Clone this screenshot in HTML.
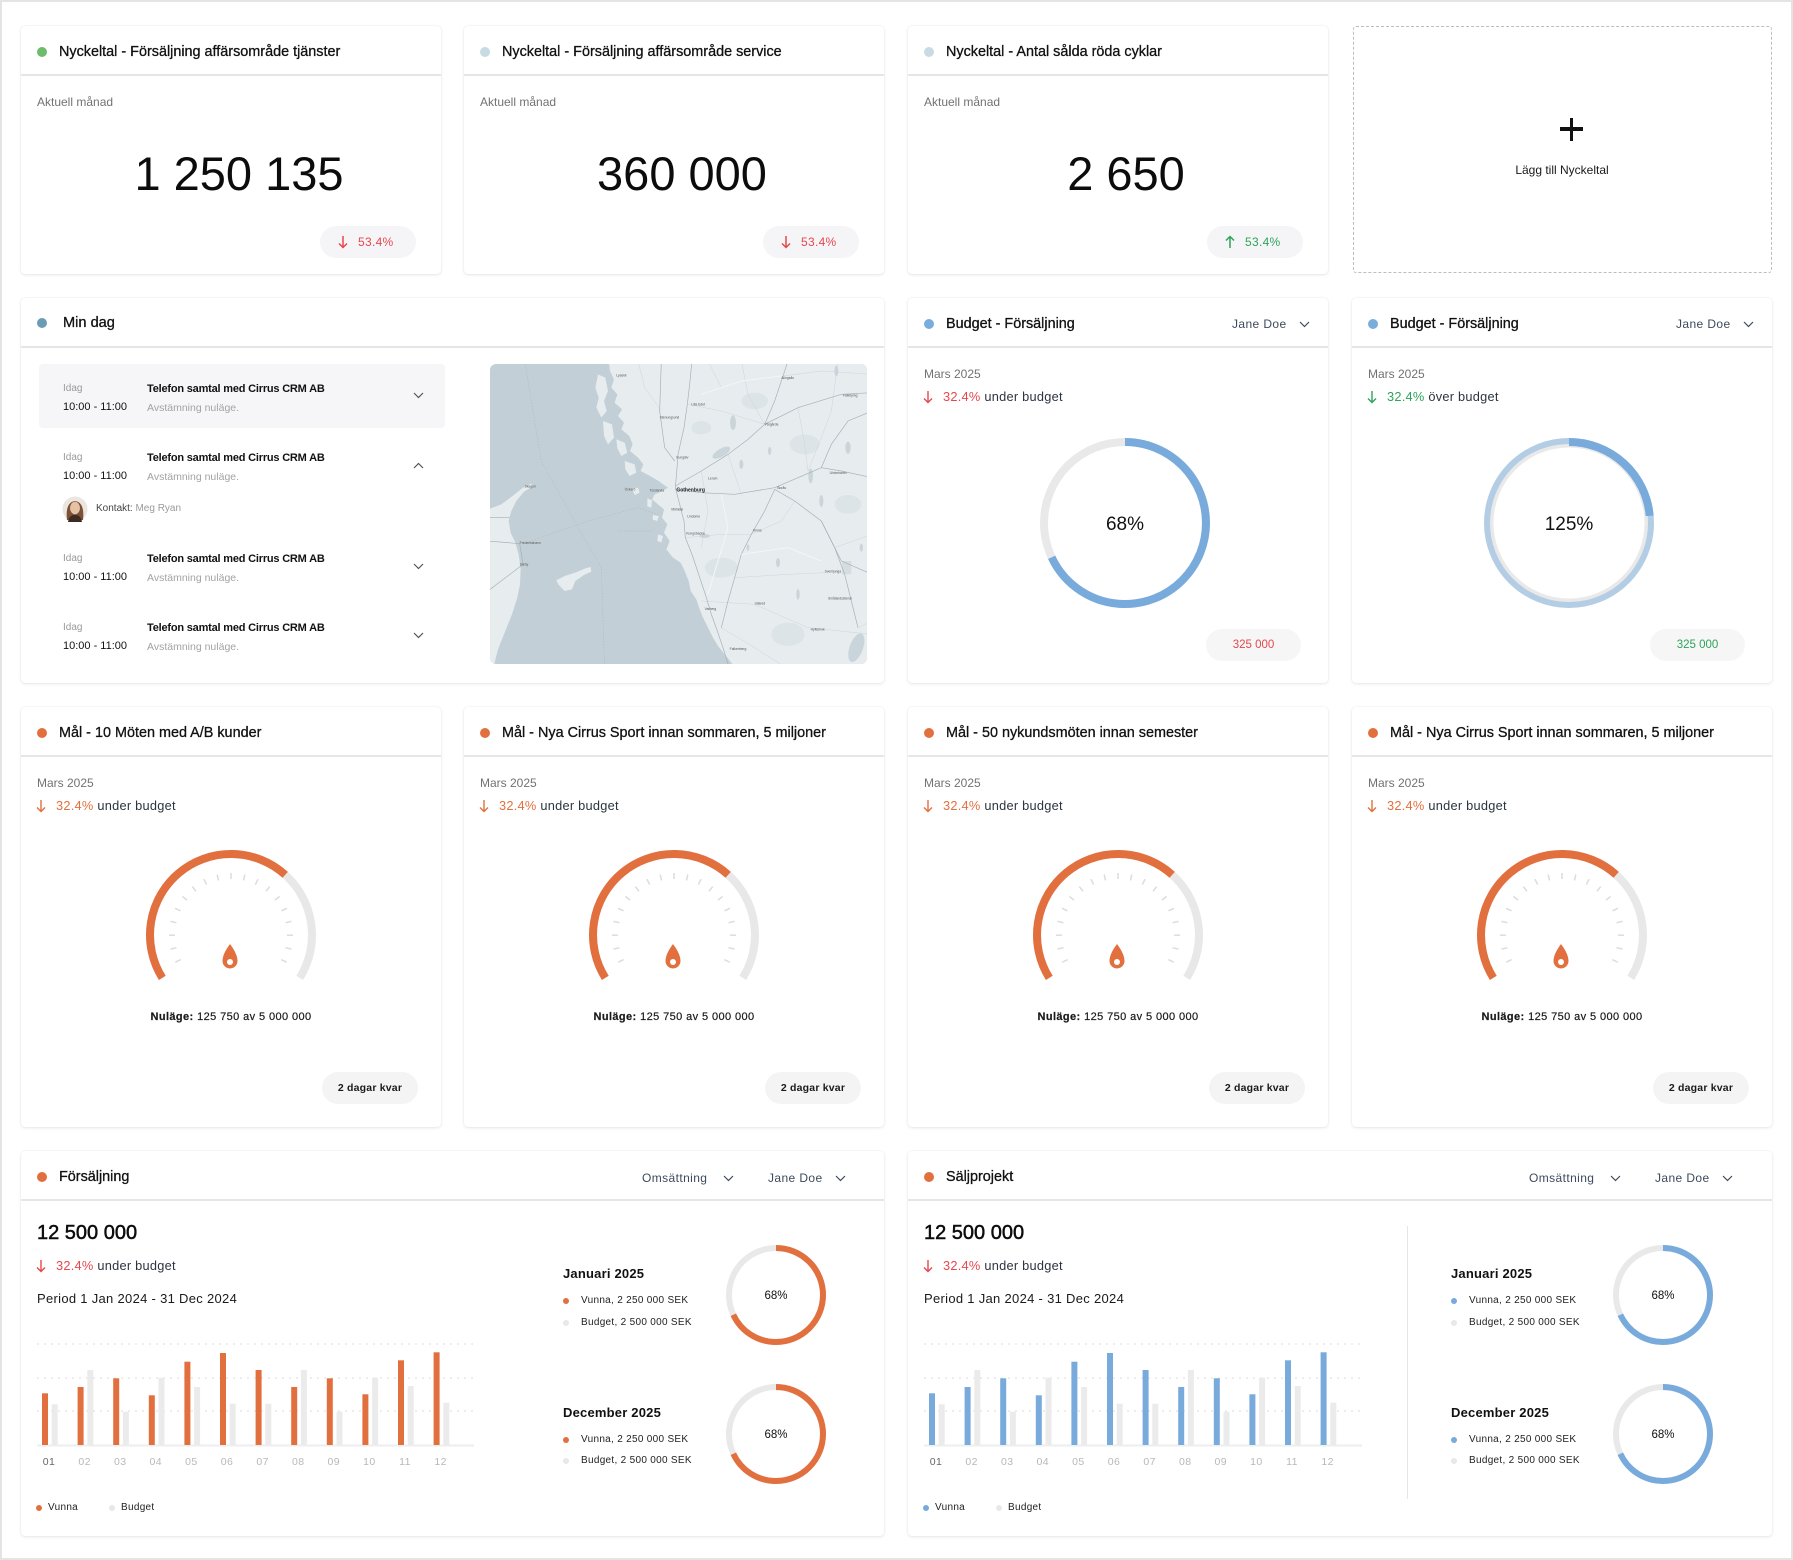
<!DOCTYPE html>
<html><head><meta charset="utf-8">
<style>
*{box-sizing:border-box;margin:0;padding:0}
html,body{width:1793px;height:1560px;overflow:hidden;background:#fff}
body{font-family:"Liberation Sans",Arial,sans-serif;color:#111;position:relative}
#frame{position:absolute;left:0;top:0;width:1793px;height:1560px;border:2px solid #e4e4e4;background:#fff}
#wrap{position:absolute;left:0;top:1px;width:1793px;height:1558px}
.card{position:absolute;background:#fff;border-radius:4px;box-shadow:0 1px 3px rgba(0,0,0,.09),0 0 1px rgba(0,0,0,.12)}
.hl{position:absolute;left:0;right:0;top:48px;height:1.5px;background:#e6e6e6}
.dot{position:absolute;width:10px;height:10px;border-radius:50%;left:16px;top:21px}
.t{position:absolute;white-space:nowrap}
.ti{left:38px;top:16px;font-size:14.4px;line-height:20px;color:#111;-webkit-text-stroke:.3px #111}
.mu{font-size:12px;line-height:16px;color:#727272}
.ub{font-size:12.8px;line-height:16px;letter-spacing:.25px;color:#2b3440}
.abs{position:absolute;left:0;top:0}
.big{left:16px;right:0;top:121px;text-align:center;font-size:47px;line-height:54px;color:#0c0c0c}
.badge{position:absolute;left:299px;top:200px;width:96px;height:32px;border-radius:16px;background:#f5f5f7}
.pill{position:absolute;left:301px;top:365px;width:96px;height:32px;border-radius:16px;background:#f4f4f5;font-size:10.5px;font-weight:bold;letter-spacing:.2px;line-height:32px;text-align:center;color:#1a1a1a}
.sel{font-size:12px;line-height:16px;letter-spacing:.4px;color:#3c4a5c}
.nu{left:0;width:420px;top:302px;text-align:center;font-size:11px;line-height:16px;letter-spacing:.4px;color:#1a1a1a;-webkit-text-stroke:.2px #1a1a1a}
.idag{font-size:10px;line-height:14px;color:#9a9a9a}
.tm{font-size:11px;line-height:14px;color:#111}
.it{font-size:11px;line-height:14px;font-weight:bold;letter-spacing:-.2px;color:#111}
.sub{font-size:10.5px;line-height:14px;color:#a3a3a3}
.mon{font-size:13px;font-weight:bold;line-height:18px;letter-spacing:.2px;color:#111}
.lg{font-size:10px;line-height:14px;letter-spacing:.3px;color:#222}
</style></head><body>
<div id="frame"></div>
<div id="wrap">

<!-- ROW 1 -->
<div class="card" style="left:21px;top:25px;width:420px;height:248px">
  <div class="dot" style="background:#6dbb6b"></div>
  <div class="t ti">Nyckeltal - Försäljning affärsområde tjänster</div>
  <div class="hl"></div>
  <div class="t mu" style="left:16px;top:68px">Aktuell månad</div>
  <div class="t big">1 250 135</div>
  <div class="badge">
    <svg style="position:absolute;left:18px;top:9px" width="10" height="14" viewBox="0 0 10 14"><path d="M5 1V12.5M1 8.5L5 12.5L9 8.5" stroke="#e5484d" stroke-width="1.5" fill="none"/></svg>
    <div class="t" style="left:38px;top:8px;font-size:12px;line-height:16px;letter-spacing:.3px;color:#e5484d">53.4%</div>
  </div>
</div>
<div class="card" style="left:464px;top:25px;width:420px;height:248px">
  <div class="dot" style="background:#c8dbe3"></div>
  <div class="t ti">Nyckeltal - Försäljning affärsområde service</div>
  <div class="hl"></div>
  <div class="t mu" style="left:16px;top:68px">Aktuell månad</div>
  <div class="t big">360 000</div>
  <div class="badge">
    <svg style="position:absolute;left:18px;top:9px" width="10" height="14" viewBox="0 0 10 14"><path d="M5 1V12.5M1 8.5L5 12.5L9 8.5" stroke="#e5484d" stroke-width="1.5" fill="none"/></svg>
    <div class="t" style="left:38px;top:8px;font-size:12px;line-height:16px;letter-spacing:.3px;color:#e5484d">53.4%</div>
  </div>
</div>
<div class="card" style="left:908px;top:25px;width:420px;height:248px">
  <div class="dot" style="background:#c8dbe3"></div>
  <div class="t ti">Nyckeltal - Antal sålda röda cyklar</div>
  <div class="hl"></div>
  <div class="t mu" style="left:16px;top:68px">Aktuell månad</div>
  <div class="t big">2 650</div>
  <div class="badge">
    <svg style="position:absolute;left:18px;top:9px" width="10" height="14" viewBox="0 0 10 14"><path d="M5 13V1.5M1 5.5L5 1.5L9 5.5" stroke="#2ea35a" stroke-width="1.5" fill="none"/></svg>
    <div class="t" style="left:38px;top:8px;font-size:12px;line-height:16px;letter-spacing:.3px;color:#2ea35a">53.4%</div>
  </div>
</div>
<div style="position:absolute;left:1353px;top:25px;width:419px;height:247px;border:1.5px dashed #bdbdbd;border-radius:3px;background:#fff">
  <div style="position:absolute;left:206px;top:100px;width:23px;height:3.5px;background:#111"></div>
  <div style="position:absolute;left:215.7px;top:90.5px;width:3.5px;height:23px;background:#111"></div>
  <div class="t" style="left:0;width:416px;top:135px;text-align:center;font-size:12px;line-height:16px;color:#1a1a1a">Lägg till Nyckeltal</div>
</div>

<!-- ROW 2 : Min dag -->
<div class="card" style="left:21px;top:297px;width:863px;height:385px">
  <div class="dot" style="background:#6b9cb6;top:20px"></div>
  <div class="t" style="left:42px;top:15px;font-size:14.6px;line-height:20px;-webkit-text-stroke:.3px #111">Min dag</div>
  <div class="hl"></div>
  <div style="position:absolute;left:18px;top:66px;width:406px;height:64px;border-radius:4px;background:#f6f6f8"></div>

  <div class="t idag" style="left:42px;top:84px">Idag</div>
  <div class="t tm" style="left:42px;top:102px">10:00 - 11:00</div>
  <div class="t it" style="left:126px;top:84px">Telefon samtal med Cirrus CRM AB</div>
  <div class="t sub" style="left:126px;top:103px">Avstämning nuläge.</div>
  <svg style="position:absolute;left:392px;top:94px" width="11" height="7"><path d="M1 1L5.5 5.5L10 1" stroke="#555" stroke-width="1.2" fill="none"/></svg>

  <div class="t idag" style="left:42px;top:153px">Idag</div>
  <div class="t tm" style="left:42px;top:171px">10:00 - 11:00</div>
  <div class="t it" style="left:126px;top:153px">Telefon samtal med Cirrus CRM AB</div>
  <div class="t sub" style="left:126px;top:172px">Avstämning nuläge.</div>
  <svg style="position:absolute;left:392px;top:164px" width="11" height="7"><path d="M1 6L5.5 1.5L10 6" stroke="#555" stroke-width="1.2" fill="none"/></svg>
  <svg style="position:absolute;left:41px;top:198px" width="26" height="26" viewBox="0 0 26 26">
    <circle cx="13" cy="13" r="12.5" fill="#ece6e1"/>
    <path d="M5 24C4 15 5 6 13 5C21 6 22 15 21 24Z" fill="#7a5238"/>
    <ellipse cx="13" cy="12" rx="5" ry="6.2" fill="#e6c1a4"/>
    <path d="M6 26C7 20 10 19 13 19C16 19 19 20 20 26Z" fill="#3d2a22"/>
  </svg>
  <div class="t" style="left:75px;top:204px;font-size:10px;line-height:14px;color:#444">Kontakt: <span style="color:#9b9b9b">Meg Ryan</span></div>

  <div class="t idag" style="left:42px;top:254px">Idag</div>
  <div class="t tm" style="left:42px;top:272px">10:00 - 11:00</div>
  <div class="t it" style="left:126px;top:254px">Telefon samtal med Cirrus CRM AB</div>
  <div class="t sub" style="left:126px;top:273px">Avstämning nuläge.</div>
  <svg style="position:absolute;left:392px;top:265px" width="11" height="7"><path d="M1 1L5.5 5.5L10 1" stroke="#555" stroke-width="1.2" fill="none"/></svg>

  <div class="t idag" style="left:42px;top:323px">Idag</div>
  <div class="t tm" style="left:42px;top:341px">10:00 - 11:00</div>
  <div class="t it" style="left:126px;top:323px">Telefon samtal med Cirrus CRM AB</div>
  <div class="t sub" style="left:126px;top:342px">Avstämning nuläge.</div>
  <svg style="position:absolute;left:392px;top:334px" width="11" height="7"><path d="M1 1L5.5 5.5L10 1" stroke="#555" stroke-width="1.2" fill="none"/></svg>
</div>

<!-- MAP -->
<svg style="position:absolute;left:488px;top:360px" width="384" height="308" viewBox="0 0 1152 924">
  <defs><clipPath id="mc"><rect x="6" y="9" width="1131" height="900" rx="18"/></clipPath></defs>
  <g clip-path="url(#mc)">
    <rect width="1152" height="924" fill="#c2cfd6"/>
    <path d="M362,0 L366,30 L378,55 L370,80 L388,100 L380,125 L402,145 L390,165 L408,185 L400,205 L424,225 L434,250 L426,270 L450,290 L466,310 L458,330 L486,345 L512,360 L528,372 L540,380 L520,392 L500,400 L492,415 L510,430 L528,445 L522,470 L538,490 L528,515 L545,540 L535,565 L555,590 L578,605 L590,630 L602,660 L608,690 L625,715 L635,745 L645,770 L660,800 L675,830 L690,855 L710,880 L730,905 L745,924 L1152,924 L1152,0 Z" fill="#e7ecef"/>
    <g fill="#e7ecef">
      <path d="M330,40 L352,50 L360,90 L348,120 L356,150 L340,170 L325,140 L332,110 L322,80 Z"/>
      <path d="M345,180 L372,190 L378,230 L360,250 L348,225 Z"/>
      <path d="M385,235 L410,245 L418,275 L400,285 L388,262 Z"/>
      <path d="M410,300 L440,310 L445,335 L425,345 L412,325 Z"/>
      <path d="M432,383 L450,380 L455,395 L440,402 Z"/>
      <path d="M478,412 L492,418 L490,440 L478,436 Z"/>
      <path d="M495,462 L512,465 L508,480 L494,476 Z"/>
      <path d="M510,520 L525,525 L520,545 L508,540 Z"/>
    </g>
    <path d="M0,445 L40,430 L80,400 L105,380 L130,368 L133,377 L108,392 L85,420 L70,450 L62,480 L68,515 L82,545 L92,580 L98,625 L96,670 L88,710 L72,760 L50,815 L30,865 L15,924 L0,924 Z" fill="#e7ecef"/>
    <path d="M205,658 L230,645 L262,635 L292,622 L308,618 L310,632 L288,642 L262,660 L252,685 L230,690 L212,672 Z" fill="#e7ecef"/>
    <g fill="#dde4e8">
      <ellipse cx="800" cy="120" rx="40" ry="25"/><ellipse cx="950" cy="250" rx="45" ry="30"/>
      <ellipse cx="700" cy="620" rx="50" ry="30"/><ellipse cx="900" cy="820" rx="50" ry="35"/>
      <ellipse cx="1080" cy="430" rx="40" ry="28"/><ellipse cx="640" cy="200" rx="30" ry="20"/>
    </g>
    <g fill="#cad5db">
      <ellipse cx="700" cy="275" rx="30" ry="12" transform="rotate(-30 700 275)"/>
      <ellipse cx="735" cy="185" rx="9" ry="22"/><ellipse cx="968" cy="345" rx="7" ry="22"/>
      <ellipse cx="870" cy="605" rx="6" ry="14"/><ellipse cx="930" cy="700" rx="5" ry="16"/>
      <ellipse cx="1105" cy="860" rx="20" ry="45" transform="rotate(20 1105 860)"/>
      <ellipse cx="650" cy="525" rx="16" ry="6"/><ellipse cx="1000" cy="420" rx="6" ry="18"/>
      <ellipse cx="760" cy="310" rx="6" ry="14"/><ellipse cx="1080" cy="260" rx="8" ry="18"/>
      <ellipse cx="1045" cy="30" rx="6" ry="16"/><ellipse cx="845" cy="270" rx="5" ry="12"/>
      <ellipse cx="780" cy="560" rx="4" ry="10"/><ellipse cx="1120" cy="560" rx="5" ry="12"/>
    </g>
    <rect x="1062" y="600" width="28" height="40" fill="#d6dde1"/>
    <g stroke="#aab5bc" stroke-width="1.2" fill="none" stroke-dasharray="5 4">
      <path d="M110,0 L160,300 L270,500 L340,620 L350,924"/>
      <path d="M130,540 L300,480 L450,440 L510,460"/>
      <path d="M390,510 L495,510"/>
    </g>
    <g stroke="#c9d2d7" stroke-width="1.3" fill="none">
      <path d="M600,130 L700,150 L830,190"/><path d="M720,280 L760,400"/>
      <path d="M885,45 L1000,30 L1152,40"/><path d="M1040,560 L1152,520"/>
      <path d="M740,650 L900,640 L1010,635"/><path d="M640,720 L800,730 L960,800 L1152,820"/>
      <path d="M590,530 L700,520 L790,520"/><path d="M960,330 L1000,230 L1030,150 L1050,0"/>
      <path d="M450,0 L470,80 L520,150"/><path d="M640,330 L660,450 L640,560"/>
      <path d="M930,140 L950,250 L960,330"/><path d="M790,520 L880,480 L920,420"/>
      <path d="M700,800 L800,860 L900,924"/><path d="M1110,800 L1152,780"/>
      <path d="M760,0 L780,100 L830,190"/><path d="M660,0 L700,80 L760,60"/>
    </g>
    <g stroke="#a4b0b7" stroke-width="2" fill="none">
      <path d="M612,0 L606,60 L598,130 L588,200 L570,280 L566,335 L562,380 L575,430 L588,480 L592,530 L612,580 L632,640 L652,700 L670,760 L688,810 L705,860 L725,924"/>
      <path d="M562,385 L640,395 L740,400 L860,380 L930,350 L1000,320 L1060,330 L1152,350"/>
      <path d="M562,375 L640,330 L720,280 L780,235 L830,190 L860,120 L885,45 L900,0"/>
      <path d="M860,385 L830,450 L790,520 L760,580 L740,650 L720,720 L700,800"/>
      <path d="M860,385 L920,420 L1000,480 L1040,560 L1070,640 L1090,720 L1110,800"/>
      <path d="M830,190 L930,140 L1060,100 L1152,95"/>
      <path d="M1000,320 L1030,250 L1080,180 L1152,150"/>
      <path d="M0,540 L95,548 L105,610 L0,690"/>
      <path d="M0,470 L65,470"/>
      <path d="M520,0 L515,150 L530,260 L560,300"/>
      <path d="M1000,480 L1060,600 L1152,640"/>
    </g>
    <g stroke="#f4f6f7" stroke-width="3" fill="none">
      <path d="M700,400 L720,500 L690,600 L660,700"/>
      <path d="M760,580 L900,560 L1000,600"/>
      <path d="M640,100 L760,60 L880,45"/>
    </g>
    <g font-family="Liberation Sans, sans-serif" font-size="10" fill="#555">
      <text x="385" y="46">Lysekil</text><text x="610" y="133">Lilla Edet</text>
      <text x="515" y="173">Stenungsund</text><text x="565" y="293">Kungälv</text>
      <text x="660" y="355">Lerum</text><text x="868" y="384">Borås</text>
      <text x="830" y="194">Vårgårda</text><text x="1025" y="339">Ulricehamn</text>
      <text x="1065" y="107">Falköping</text><text x="880" y="54">Alingsås</text>
      <text x="410" y="388">Öckerö</text><text x="485" y="392">Torslanda</text>
      <text x="550" y="448">Mölndal</text><text x="598" y="470">Lindome</text>
      <text x="595" y="521">Kungsbacka</text><text x="795" y="511">Kinna</text>
      <text x="650" y="747">Varberg</text><text x="725" y="867">Falkenberg</text>
      <text x="800" y="730">Ullared</text><text x="968" y="808">Hyltebruk</text>
      <text x="1010" y="635">Svenljunga</text><text x="1020" y="716">Smålandsstenar</text>
      <text x="110" y="380">Skagen</text><text x="95" y="549">Frederikshavn</text>
      <text x="95" y="614">Sæby</text>
      <text x="565" y="391" font-size="15" font-weight="bold" fill="#222">Gothenburg</text>
    </g>
  </g>
</svg>

<!-- ROW 2 : Budget -->
<div class="card" style="left:908px;top:297px;width:420px;height:385px">
  <div class="dot" style="background:#7aaddc"></div>
  <div class="t ti">Budget - Försäljning</div>
  <div class="t sel" style="left:324px;top:18px">Jane Doe</div>
  <svg style="position:absolute;left:391px;top:23px" width="11" height="7"><path d="M1 1L5.5 5.5L10 1" stroke="#3c4a5c" stroke-width="1.2" fill="none"/></svg>
  <div class="hl"></div>
  <div class="t mu" style="left:16px;top:68px">Mars 2025</div>
  <svg style="position:absolute;left:15px;top:92px" width="10" height="14" viewBox="0 0 10 14"><path d="M5 1V12.5M1 8.5L5 12.5L9 8.5" stroke="#e5484d" stroke-width="1.4" fill="none"/></svg>
  <div class="t ub" style="left:35px;top:91px"><span style="color:#e5484d">32.4%</span> under budget</div>
  <svg class="abs" width="420" height="385">
    <circle cx="217" cy="225" r="81" fill="none" stroke="#e9e9e9" stroke-width="8"/>
    <circle cx="217" cy="225" r="81" fill="none" stroke="#78abdc" stroke-width="8" stroke-dasharray="346.1 600" transform="rotate(-90 217 225)"/>
    <text x="217" y="232" text-anchor="middle" font-family="Liberation Sans, sans-serif" font-size="19" fill="#111">68%</text>
  </svg>
  <div style="position:absolute;left:298px;top:331px;width:95px;height:32px;border-radius:16px;background:#f6f6f6;text-align:center;line-height:32px;font-size:11.5px;color:#e5484d">325 000</div>
</div>
<div class="card" style="left:1352px;top:297px;width:420px;height:385px">
  <div class="dot" style="background:#7aaddc"></div>
  <div class="t ti">Budget - Försäljning</div>
  <div class="t sel" style="left:324px;top:18px">Jane Doe</div>
  <svg style="position:absolute;left:391px;top:23px" width="11" height="7"><path d="M1 1L5.5 5.5L10 1" stroke="#3c4a5c" stroke-width="1.2" fill="none"/></svg>
  <div class="hl"></div>
  <div class="t mu" style="left:16px;top:68px">Mars 2025</div>
  <svg style="position:absolute;left:15px;top:92px" width="10" height="14" viewBox="0 0 10 14"><path d="M5 1V12.5M1 8.5L5 12.5L9 8.5" stroke="#2ea35a" stroke-width="1.4" fill="none"/></svg>
  <div class="t ub" style="left:35px;top:91px"><span style="color:#2ea35a">32.4%</span> över budget</div>
  <svg class="abs" width="420" height="385">
    <circle cx="217" cy="225" r="79" fill="none" stroke="#e9e9e9" stroke-width="7"/>
    <circle cx="217" cy="225" r="82" fill="none" stroke="#b3cde4" stroke-width="6"/>
    <circle cx="217" cy="225" r="81" fill="none" stroke="#78abdc" stroke-width="8" stroke-dasharray="120 600" transform="rotate(-90 217 225)"/>
    <text x="217" y="232" text-anchor="middle" font-family="Liberation Sans, sans-serif" font-size="19" fill="#111">125%</text>
  </svg>
  <div style="position:absolute;left:298px;top:331px;width:95px;height:32px;border-radius:16px;background:#f6f6f6;text-align:center;line-height:32px;font-size:11.5px;color:#2ea35a">325 000</div>
</div>

<!-- ROW 3 : Gauges -->
<div class="card" style="left:21px;top:706px;width:420px;height:420px">
  <div class="dot" style="background:#e2703f"></div>
  <div class="t ti">Mål - 10 Möten med A/B kunder</div>
  <div class="hl"></div>
  <div class="t mu" style="left:16px;top:68px">Mars 2025</div>
  <svg style="position:absolute;left:15px;top:92px" width="10" height="14" viewBox="0 0 10 14"><path d="M5 1V12.5M1 8.5L5 12.5L9 8.5" stroke="#e2703f" stroke-width="1.4" fill="none"/></svg>
  <div class="t ub" style="left:35px;top:91px"><span style="color:#e2703f">32.4%</span> under budget</div>
  <svg class="abs" width="420" height="420">
    <path d="M141.3 270.9 A81 81 0 1 1 278.7 270.9" fill="none" stroke="#e8e8e8" stroke-width="8"/>
    <path d="M141.3 270.9 A81 81 0 0 1 264.2 167.8" fill="none" stroke="#e2703f" stroke-width="8"/>
    <g stroke="#dcdcdc" stroke-width="1.5">
      <line x1="260.3" y1="252.6" x2="265.7" y2="255.2"/><line x1="264.5" y1="240.7" x2="270.4" y2="242.1"/><line x1="266" y1="228.2" x2="272" y2="228.2"/><line x1="264.6" y1="215.7" x2="270.5" y2="214.4"/><line x1="260.5" y1="203.8" x2="265.9" y2="201.3"/><line x1="253.9" y1="193.2" x2="258.6" y2="189.4"/><line x1="245" y1="184.3" x2="248.7" y2="179.6"/><line x1="234.4" y1="177.6" x2="237" y2="172.2"/><line x1="222.5" y1="173.4" x2="223.8" y2="167.6"/><line x1="210" y1="172" x2="210" y2="166"/><line x1="197.5" y1="173.4" x2="196.2" y2="167.6"/><line x1="185.6" y1="177.6" x2="183" y2="172.2"/><line x1="175" y1="184.3" x2="171.3" y2="179.6"/><line x1="166.1" y1="193.2" x2="161.4" y2="189.4"/><line x1="159.5" y1="203.8" x2="154.1" y2="201.3"/><line x1="155.4" y1="215.7" x2="149.5" y2="214.4"/><line x1="154" y1="228.2" x2="148" y2="228.2"/><line x1="155.5" y1="240.7" x2="149.6" y2="242.1"/><line x1="159.7" y1="252.6" x2="154.3" y2="255.2"/>
    </g>
    <path d="M209 237 Q216.5 247 216.5 254 A7.5 7.5 0 1 1 201.5 254 Q201.5 247 209 237 Z" fill="#e2703f"/>
    <circle cx="209" cy="255" r="3" fill="#fff"/>
  </svg>
  <div class="t nu"><b>Nuläge:</b> 125 750 av 5 000 000</div>
  <div class="pill">2 dagar kvar</div>
</div>
<div class="card" style="left:464px;top:706px;width:420px;height:420px">
  <div class="dot" style="background:#e2703f"></div>
  <div class="t ti">Mål - Nya Cirrus Sport innan sommaren, 5 miljoner</div>
  <div class="hl"></div>
  <div class="t mu" style="left:16px;top:68px">Mars 2025</div>
  <svg style="position:absolute;left:15px;top:92px" width="10" height="14" viewBox="0 0 10 14"><path d="M5 1V12.5M1 8.5L5 12.5L9 8.5" stroke="#e2703f" stroke-width="1.4" fill="none"/></svg>
  <div class="t ub" style="left:35px;top:91px"><span style="color:#e2703f">32.4%</span> under budget</div>
  <svg class="abs" width="420" height="420">
    <path d="M141.3 270.9 A81 81 0 1 1 278.7 270.9" fill="none" stroke="#e8e8e8" stroke-width="8"/>
    <path d="M141.3 270.9 A81 81 0 0 1 264.2 167.8" fill="none" stroke="#e2703f" stroke-width="8"/>
    <g stroke="#dcdcdc" stroke-width="1.5">
      <line x1="260.3" y1="252.6" x2="265.7" y2="255.2"/><line x1="264.5" y1="240.7" x2="270.4" y2="242.1"/><line x1="266" y1="228.2" x2="272" y2="228.2"/><line x1="264.6" y1="215.7" x2="270.5" y2="214.4"/><line x1="260.5" y1="203.8" x2="265.9" y2="201.3"/><line x1="253.9" y1="193.2" x2="258.6" y2="189.4"/><line x1="245" y1="184.3" x2="248.7" y2="179.6"/><line x1="234.4" y1="177.6" x2="237" y2="172.2"/><line x1="222.5" y1="173.4" x2="223.8" y2="167.6"/><line x1="210" y1="172" x2="210" y2="166"/><line x1="197.5" y1="173.4" x2="196.2" y2="167.6"/><line x1="185.6" y1="177.6" x2="183" y2="172.2"/><line x1="175" y1="184.3" x2="171.3" y2="179.6"/><line x1="166.1" y1="193.2" x2="161.4" y2="189.4"/><line x1="159.5" y1="203.8" x2="154.1" y2="201.3"/><line x1="155.4" y1="215.7" x2="149.5" y2="214.4"/><line x1="154" y1="228.2" x2="148" y2="228.2"/><line x1="155.5" y1="240.7" x2="149.6" y2="242.1"/><line x1="159.7" y1="252.6" x2="154.3" y2="255.2"/>
    </g>
    <path d="M209 237 Q216.5 247 216.5 254 A7.5 7.5 0 1 1 201.5 254 Q201.5 247 209 237 Z" fill="#e2703f"/>
    <circle cx="209" cy="255" r="3" fill="#fff"/>
  </svg>
  <div class="t nu"><b>Nuläge:</b> 125 750 av 5 000 000</div>
  <div class="pill">2 dagar kvar</div>
</div>
<div class="card" style="left:908px;top:706px;width:420px;height:420px">
  <div class="dot" style="background:#e2703f"></div>
  <div class="t ti">Mål - 50 nykundsmöten innan semester</div>
  <div class="hl"></div>
  <div class="t mu" style="left:16px;top:68px">Mars 2025</div>
  <svg style="position:absolute;left:15px;top:92px" width="10" height="14" viewBox="0 0 10 14"><path d="M5 1V12.5M1 8.5L5 12.5L9 8.5" stroke="#e2703f" stroke-width="1.4" fill="none"/></svg>
  <div class="t ub" style="left:35px;top:91px"><span style="color:#e2703f">32.4%</span> under budget</div>
  <svg class="abs" width="420" height="420">
    <path d="M141.3 270.9 A81 81 0 1 1 278.7 270.9" fill="none" stroke="#e8e8e8" stroke-width="8"/>
    <path d="M141.3 270.9 A81 81 0 0 1 264.2 167.8" fill="none" stroke="#e2703f" stroke-width="8"/>
    <g stroke="#dcdcdc" stroke-width="1.5">
      <line x1="260.3" y1="252.6" x2="265.7" y2="255.2"/><line x1="264.5" y1="240.7" x2="270.4" y2="242.1"/><line x1="266" y1="228.2" x2="272" y2="228.2"/><line x1="264.6" y1="215.7" x2="270.5" y2="214.4"/><line x1="260.5" y1="203.8" x2="265.9" y2="201.3"/><line x1="253.9" y1="193.2" x2="258.6" y2="189.4"/><line x1="245" y1="184.3" x2="248.7" y2="179.6"/><line x1="234.4" y1="177.6" x2="237" y2="172.2"/><line x1="222.5" y1="173.4" x2="223.8" y2="167.6"/><line x1="210" y1="172" x2="210" y2="166"/><line x1="197.5" y1="173.4" x2="196.2" y2="167.6"/><line x1="185.6" y1="177.6" x2="183" y2="172.2"/><line x1="175" y1="184.3" x2="171.3" y2="179.6"/><line x1="166.1" y1="193.2" x2="161.4" y2="189.4"/><line x1="159.5" y1="203.8" x2="154.1" y2="201.3"/><line x1="155.4" y1="215.7" x2="149.5" y2="214.4"/><line x1="154" y1="228.2" x2="148" y2="228.2"/><line x1="155.5" y1="240.7" x2="149.6" y2="242.1"/><line x1="159.7" y1="252.6" x2="154.3" y2="255.2"/>
    </g>
    <path d="M209 237 Q216.5 247 216.5 254 A7.5 7.5 0 1 1 201.5 254 Q201.5 247 209 237 Z" fill="#e2703f"/>
    <circle cx="209" cy="255" r="3" fill="#fff"/>
  </svg>
  <div class="t nu"><b>Nuläge:</b> 125 750 av 5 000 000</div>
  <div class="pill">2 dagar kvar</div>
</div>
<div class="card" style="left:1352px;top:706px;width:420px;height:420px">
  <div class="dot" style="background:#e2703f"></div>
  <div class="t ti">Mål - Nya Cirrus Sport innan sommaren, 5 miljoner</div>
  <div class="hl"></div>
  <div class="t mu" style="left:16px;top:68px">Mars 2025</div>
  <svg style="position:absolute;left:15px;top:92px" width="10" height="14" viewBox="0 0 10 14"><path d="M5 1V12.5M1 8.5L5 12.5L9 8.5" stroke="#e2703f" stroke-width="1.4" fill="none"/></svg>
  <div class="t ub" style="left:35px;top:91px"><span style="color:#e2703f">32.4%</span> under budget</div>
  <svg class="abs" width="420" height="420">
    <path d="M141.3 270.9 A81 81 0 1 1 278.7 270.9" fill="none" stroke="#e8e8e8" stroke-width="8"/>
    <path d="M141.3 270.9 A81 81 0 0 1 264.2 167.8" fill="none" stroke="#e2703f" stroke-width="8"/>
    <g stroke="#dcdcdc" stroke-width="1.5">
      <line x1="260.3" y1="252.6" x2="265.7" y2="255.2"/><line x1="264.5" y1="240.7" x2="270.4" y2="242.1"/><line x1="266" y1="228.2" x2="272" y2="228.2"/><line x1="264.6" y1="215.7" x2="270.5" y2="214.4"/><line x1="260.5" y1="203.8" x2="265.9" y2="201.3"/><line x1="253.9" y1="193.2" x2="258.6" y2="189.4"/><line x1="245" y1="184.3" x2="248.7" y2="179.6"/><line x1="234.4" y1="177.6" x2="237" y2="172.2"/><line x1="222.5" y1="173.4" x2="223.8" y2="167.6"/><line x1="210" y1="172" x2="210" y2="166"/><line x1="197.5" y1="173.4" x2="196.2" y2="167.6"/><line x1="185.6" y1="177.6" x2="183" y2="172.2"/><line x1="175" y1="184.3" x2="171.3" y2="179.6"/><line x1="166.1" y1="193.2" x2="161.4" y2="189.4"/><line x1="159.5" y1="203.8" x2="154.1" y2="201.3"/><line x1="155.4" y1="215.7" x2="149.5" y2="214.4"/><line x1="154" y1="228.2" x2="148" y2="228.2"/><line x1="155.5" y1="240.7" x2="149.6" y2="242.1"/><line x1="159.7" y1="252.6" x2="154.3" y2="255.2"/>
    </g>
    <path d="M209 237 Q216.5 247 216.5 254 A7.5 7.5 0 1 1 201.5 254 Q201.5 247 209 237 Z" fill="#e2703f"/>
    <circle cx="209" cy="255" r="3" fill="#fff"/>
  </svg>
  <div class="t nu"><b>Nuläge:</b> 125 750 av 5 000 000</div>
  <div class="pill">2 dagar kvar</div>
</div>

<!-- ROW 4 : Försäljning -->
<div class="card" style="left:21px;top:1150px;width:863px;height:385px">
  <div class="dot" style="background:#e2703f"></div>
  <div class="t ti">Försäljning</div>
  <div class="t sel" style="left:621px;top:19px">Omsättning</div>
  <svg style="position:absolute;left:702px;top:24px" width="11" height="7"><path d="M1 1L5.5 5.5L10 1" stroke="#3c4a5c" stroke-width="1.2" fill="none"/></svg>
  <div class="t sel" style="left:747px;top:19px">Jane Doe</div>
  <svg style="position:absolute;left:814px;top:24px" width="11" height="7"><path d="M1 1L5.5 5.5L10 1" stroke="#3c4a5c" stroke-width="1.2" fill="none"/></svg>
  <div class="hl"></div>
  <div class="t" style="left:16px;top:70px;font-size:20px;line-height:24px;color:#0c0c0c;-webkit-text-stroke:.5px #0c0c0c">12 500 000</div>
  <svg style="position:absolute;left:15px;top:108px" width="10" height="14" viewBox="0 0 10 14"><path d="M5 1V12.5M1 8.5L5 12.5L9 8.5" stroke="#e5484d" stroke-width="1.4" fill="none"/></svg>
  <div class="t ub" style="left:35px;top:107px"><span style="color:#e5484d">32.4%</span> under budget</div>
  <div class="t" style="left:16px;top:140px;font-size:13px;line-height:16px;letter-spacing:.3px;color:#1a1a1a">Period 1 Jan 2024 - 31 Dec 2024</div>
  <div class="t mon" style="left:542px;top:114px">Januari 2025</div>
  <div class="t lg" style="left:560px;top:143px">Vunna, 2 250 000 SEK</div>
  <div class="t lg" style="left:560px;top:165px">Budget, 2 500 000 SEK</div>
  <div class="t mon" style="left:542px;top:253px">December 2025</div>
  <div class="t lg" style="left:560px;top:282px">Vunna, 2 250 000 SEK</div>
  <div class="t lg" style="left:560px;top:303px">Budget, 2 500 000 SEK</div>
  <div class="t lg" style="left:27px;top:350px">Vunna</div>
  <div class="t lg" style="left:100px;top:350px">Budget</div>
  <svg class="abs" width="863" height="385">
    <g stroke="#e2e2e2" stroke-width="1.2" stroke-dasharray="2 5"><line x1="16" y1="193" x2="453" y2="193"/><line x1="16" y1="227" x2="453" y2="227"/><line x1="16" y1="260" x2="453" y2="260"/></g>
    <line x1="16" y1="294.5" x2="453" y2="294.5" stroke="#eceef0" stroke-width="2"/>
    <g fill="#e2703f">
      <rect x="21" y="242.3" width="6" height="51.7"/><rect x="56.6" y="236" width="6" height="58"/><rect x="92.2" y="227.3" width="6" height="66.7"/><rect x="127.8" y="244.3" width="6" height="49.7"/><rect x="163.4" y="210.7" width="6" height="83.3"/><rect x="199" y="202" width="6" height="92"/><rect x="234.6" y="219" width="6" height="75"/><rect x="270.2" y="236" width="6" height="58"/><rect x="305.8" y="227.3" width="6" height="66.7"/><rect x="341.4" y="243.3" width="6" height="50.7"/><rect x="377" y="209.3" width="6" height="84.7"/><rect x="412.6" y="201.3" width="6" height="92.7"/>
    </g>
    <g fill="#ebebeb">
      <rect x="30.7" y="253.3" width="6" height="40.7"/><rect x="66.3" y="219" width="6" height="75"/><rect x="101.9" y="260.7" width="6" height="33.3"/><rect x="137.5" y="226.7" width="6" height="67.3"/><rect x="173.1" y="236" width="6" height="58"/><rect x="208.7" y="252.7" width="6" height="41.3"/><rect x="244.3" y="252.7" width="6" height="41.3"/><rect x="279.9" y="219" width="6" height="75"/><rect x="315.5" y="260.7" width="6" height="33.3"/><rect x="351.1" y="226.7" width="6" height="67.3"/><rect x="386.7" y="235" width="6" height="59"/><rect x="422.3" y="251.7" width="6" height="42.3"/>
    </g>
    <g font-family="Liberation Sans, sans-serif" font-size="10.5" fill="#b8b8b8" text-anchor="middle" letter-spacing=".4">
      <text x="28" y="314" fill="#666">01</text><text x="63.6" y="314">02</text><text x="99.2" y="314">03</text><text x="134.8" y="314">04</text><text x="170.4" y="314">05</text><text x="206" y="314">06</text><text x="241.6" y="314">07</text><text x="277.2" y="314">08</text><text x="312.8" y="314">09</text><text x="348.4" y="314">10</text><text x="384" y="314">11</text><text x="419.6" y="314">12</text>
    </g>
    <circle cx="18" cy="357" r="3" fill="#e2703f"/><circle cx="91" cy="357" r="3" fill="#e8e8e8"/>
    <circle cx="545" cy="150" r="3" fill="#e2703f"/><circle cx="545" cy="172" r="3" fill="#e8e8e8"/>
    <circle cx="545" cy="289" r="3" fill="#e2703f"/><circle cx="545" cy="310" r="3" fill="#e8e8e8"/>
    <circle cx="755" cy="144" r="47" fill="none" stroke="#e9e9e9" stroke-width="6"/>
    <circle cx="755" cy="144" r="47" fill="none" stroke="#e2703f" stroke-width="6" stroke-dasharray="200.8 400" transform="rotate(-90 755 144)"/>
    <circle cx="755" cy="283" r="47" fill="none" stroke="#e9e9e9" stroke-width="6"/>
    <circle cx="755" cy="283" r="47" fill="none" stroke="#e2703f" stroke-width="6" stroke-dasharray="200.8 400" transform="rotate(-90 755 283)"/>
    <g font-family="Liberation Sans, sans-serif" font-size="11.5" fill="#111" text-anchor="middle">
      <text x="755" y="148">68%</text><text x="755" y="287">68%</text>
    </g>
  </svg>
</div>

<!-- ROW 4 : Säljprojekt -->
<div class="card" style="left:908px;top:1150px;width:864px;height:385px">
  <div class="dot" style="background:#e2703f"></div>
  <div class="t ti">Säljprojekt</div>
  <div class="t sel" style="left:621px;top:19px">Omsättning</div>
  <svg style="position:absolute;left:702px;top:24px" width="11" height="7"><path d="M1 1L5.5 5.5L10 1" stroke="#3c4a5c" stroke-width="1.2" fill="none"/></svg>
  <div class="t sel" style="left:747px;top:19px">Jane Doe</div>
  <svg style="position:absolute;left:814px;top:24px" width="11" height="7"><path d="M1 1L5.5 5.5L10 1" stroke="#3c4a5c" stroke-width="1.2" fill="none"/></svg>
  <div class="hl"></div>
  <div class="t" style="left:16px;top:70px;font-size:20px;line-height:24px;color:#0c0c0c;-webkit-text-stroke:.5px #0c0c0c">12 500 000</div>
  <svg style="position:absolute;left:15px;top:108px" width="10" height="14" viewBox="0 0 10 14"><path d="M5 1V12.5M1 8.5L5 12.5L9 8.5" stroke="#e5484d" stroke-width="1.4" fill="none"/></svg>
  <div class="t ub" style="left:35px;top:107px"><span style="color:#e5484d">32.4%</span> under budget</div>
  <div class="t" style="left:16px;top:140px;font-size:13px;line-height:16px;letter-spacing:.3px;color:#1a1a1a">Period 1 Jan 2024 - 31 Dec 2024</div>
  <div style="position:absolute;left:499px;top:75px;width:1px;height:273px;background:#e6e6e6"></div>
  <div class="t mon" style="left:543px;top:114px">Januari 2025</div>
  <div class="t lg" style="left:561px;top:143px">Vunna, 2 250 000 SEK</div>
  <div class="t lg" style="left:561px;top:165px">Budget, 2 500 000 SEK</div>
  <div class="t mon" style="left:543px;top:253px">December 2025</div>
  <div class="t lg" style="left:561px;top:282px">Vunna, 2 250 000 SEK</div>
  <div class="t lg" style="left:561px;top:303px">Budget, 2 500 000 SEK</div>
  <div class="t lg" style="left:27px;top:350px">Vunna</div>
  <div class="t lg" style="left:100px;top:350px">Budget</div>
  <svg class="abs" width="864" height="385">
    <g stroke="#e2e2e2" stroke-width="1.2" stroke-dasharray="2 5"><line x1="16" y1="193" x2="454" y2="193"/><line x1="16" y1="227" x2="454" y2="227"/><line x1="16" y1="260" x2="454" y2="260"/></g>
    <line x1="16" y1="294.5" x2="454" y2="294.5" stroke="#eceef0" stroke-width="2"/>
    <g fill="#78abdc">
      <rect x="21" y="242.3" width="6" height="51.7"/><rect x="56.6" y="236" width="6" height="58"/><rect x="92.2" y="227.3" width="6" height="66.7"/><rect x="127.8" y="244.3" width="6" height="49.7"/><rect x="163.4" y="210.7" width="6" height="83.3"/><rect x="199" y="202" width="6" height="92"/><rect x="234.6" y="219" width="6" height="75"/><rect x="270.2" y="236" width="6" height="58"/><rect x="305.8" y="227.3" width="6" height="66.7"/><rect x="341.4" y="243.3" width="6" height="50.7"/><rect x="377" y="209.3" width="6" height="84.7"/><rect x="412.6" y="201.3" width="6" height="92.7"/>
    </g>
    <g fill="#ebebeb">
      <rect x="30.7" y="253.3" width="6" height="40.7"/><rect x="66.3" y="219" width="6" height="75"/><rect x="101.9" y="260.7" width="6" height="33.3"/><rect x="137.5" y="226.7" width="6" height="67.3"/><rect x="173.1" y="236" width="6" height="58"/><rect x="208.7" y="252.7" width="6" height="41.3"/><rect x="244.3" y="252.7" width="6" height="41.3"/><rect x="279.9" y="219" width="6" height="75"/><rect x="315.5" y="260.7" width="6" height="33.3"/><rect x="351.1" y="226.7" width="6" height="67.3"/><rect x="386.7" y="235" width="6" height="59"/><rect x="422.3" y="251.7" width="6" height="42.3"/>
    </g>
    <g font-family="Liberation Sans, sans-serif" font-size="10.5" fill="#b8b8b8" text-anchor="middle" letter-spacing=".4">
      <text x="28" y="314" fill="#666">01</text><text x="63.6" y="314">02</text><text x="99.2" y="314">03</text><text x="134.8" y="314">04</text><text x="170.4" y="314">05</text><text x="206" y="314">06</text><text x="241.6" y="314">07</text><text x="277.2" y="314">08</text><text x="312.8" y="314">09</text><text x="348.4" y="314">10</text><text x="384" y="314">11</text><text x="419.6" y="314">12</text>
    </g>
    <circle cx="18" cy="357" r="3" fill="#78abdc"/><circle cx="91" cy="357" r="3" fill="#e8e8e8"/>
    <circle cx="546" cy="150" r="3" fill="#78abdc"/><circle cx="546" cy="172" r="3" fill="#e8e8e8"/>
    <circle cx="546" cy="289" r="3" fill="#78abdc"/><circle cx="546" cy="310" r="3" fill="#e8e8e8"/>
    <circle cx="755" cy="144" r="47" fill="none" stroke="#e9e9e9" stroke-width="6"/>
    <circle cx="755" cy="144" r="47" fill="none" stroke="#78abdc" stroke-width="6" stroke-dasharray="200.8 400" transform="rotate(-90 755 144)"/>
    <circle cx="755" cy="283" r="47" fill="none" stroke="#e9e9e9" stroke-width="6"/>
    <circle cx="755" cy="283" r="47" fill="none" stroke="#78abdc" stroke-width="6" stroke-dasharray="200.8 400" transform="rotate(-90 755 283)"/>
    <g font-family="Liberation Sans, sans-serif" font-size="11.5" fill="#111" text-anchor="middle">
      <text x="755" y="148">68%</text><text x="755" y="287">68%</text>
    </g>
  </svg>
</div>
</div>
</body></html>
